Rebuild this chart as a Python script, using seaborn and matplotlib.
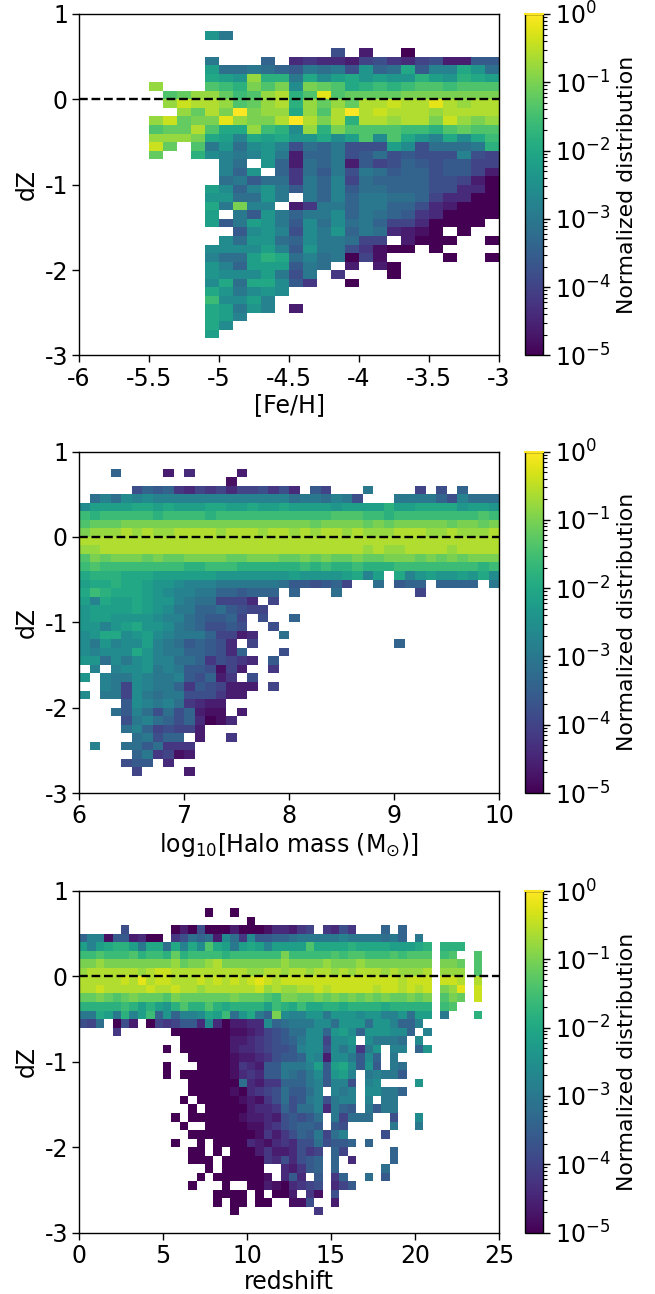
import matplotlib
matplotlib.use("Agg")
import matplotlib.pyplot as plt
import numpy as np
import seaborn as sns
from matplotlib.colors import LogNorm

# one letter per cell, a = 1e-5 ... z = 1 in steps of 0.2 dex, "." = empty bin
# rows run from dZ = 1 (top) down to dZ = -3, bins are 0.1 wide in dZ
feh_rows = [
    "",
    "",
    "..... ....n k.... ..... ..... .....",
    "",
    "..... ..... ..... ...g. c..a. .....",
    "..... ....k ...i. deddc fgedf gcchh",
    "..... ....o jjkji hkjkg nijph llpnj",
    "..... ....p onvqq kpmop nonnq onqpo",
    "..... v...s rqusu mutsp qrqrs srsss",
    "..... .stvv trsvw qsyst tttuu uuuuu",
    "..... .vxww vstvw qvtvt wwxww ywvww",
    "..... ..vtw uzuvv pvswz wxwww vwwww",
    "..... vxtuu yvuuw zwuwq wwvww uxvuv",
    "..... sttws ppvrq mvqus sssrr qstss",
    "..... vvvup olpop nnpmo smspn lpmpr",
    "..... xt.sk njmnl gjikg ggomg jjjkq",
    "..... t..qm lklnk ciikg hjghg gglgf",
    "..... ..... lj.ni cjikc hfgih ghhff",
    "..... ..... lin.i ejhkg kjhii ghhfc",
    "..... ..... jkhjj ekilf jiiii ggfca",
    "..... ....o milnk hkilh jjiii ggdda",
    "..... ....n njjnk .kili kkjji fddaa",
    "..... ....p kull. cekki kkiig dcaaa",
    "..... ....o .khnk ikkmi kjihe daaaa",
    "..... ....o hkonk hmjmj kiffd aaaa.",
    "..... ..... .hmnl gmkni kjdcb a.a..",
    "..... ..... mjnnj imkkj ff.ca aa..a",
    "..... ....m mmmol hnkkg ebaa. a....",
    "..... ....l jjoqp jljka fb... .a..a",
    "..... ....n liooo hkj.c .ca.. .....",
    "..... ....n mmmok gk.e. ..a.. .....",
    "..... ....m pjppm he..a ..... .....",
    "..... ....p nkmnm ..... ..... .....",
    "..... ....r mmol. ..... ..... .....",
    "..... ....p oknl. c.... ..... .....",
    "..... ....p ol... ..... ..... .....",
    "..... ....p m.... ..... ..... .....",
    "..... ....o ..... ..... ..... .....",
]

halo_rows = [
    "",
    "",
    "...i. ...c. d.... c....",
    "..... ..... ....b .....",
    "..... gihie dfefd ffgeg d.hf. ..k.. ..f.g .i...",
    ".jljm lmlll lllll lllll jkkjl kg... kkkki gljjj",
    "moooo ppopo ooppo opoop oooon ooooq ooppp pnoon",
    "rqrrr rrqrr rrqrr rrrrr rrrrs ssrrq rrrrr rrrsr",
    "stttu uuuuu uuuuu uuuuu uutuu uutut uuuuu tuutu",
    "uvvvw vwvvw wwwvw wwvww vwvww vwvvv wwwvv wvvvw",
    "wwwww wwwww wwwww wwwww wwwww wwwww wwwww wwwww",
    "vvwww wwwww wwwww wwwww wwwww wwvwv vwwww vwwww",
    "sutuu ututt uuuut tuuut tutut tuttu uutut utuuu",
    "rsrrr rrrrr qqrrr qqqqq qrqrq qrqqq rrrrr rrrqr",
    "pqqqp ppooo ooonn nnnnn onnnn oplo. plnon nonpm",
    "oppqp ponnm lllkk kkkkj hhghi f..j. hii.i iii.k",
    "prqpp ponml lkkii hiii. i...j ..... ..f.. .....",
    "olpoo ponnl kjjff fd.f. .....",
    "noooo ponmk kiijh gff.. .....",
    "noonn nnmll jihhi f.g.. i....",
    "nnlno pnnmk jiggh g..g. .....",
    "mnppm nomlk kkiff cd..j .....",
    "mknlm molkj hihgd .f... ..... ..... i....",
    "mlmmm pnlkk iihgd i...g",
    "nnjmk mnllj jiegf ed.h.",
    ".l.lm mnklk hhgbf c..e.",
    "n.lkk mlkkl hgice .g...",
    "..lkf mlkki ehgfc cc.f.",
    "m.kkf mkjkk gggec c....",
    "....h mlklj edcc. .....",
    "...jh ljgjg icbb. c....",
    "....g kljig idabd .....",
    "....j lifgf fc... .....",
    "..... jkgii .c..e .....",
    ".l..j jhjee e....",
    "..... ikefb c....",
    "....g hh.d. .....",
    "..... f.... c....",
]

redshift_rows = [
    "",
    "",
    "..... ..... ..... a..a.",
    "..... ..... ..... ..... a....",
    "..... g.... .acag aaaca aabdd cef.e dge.. .i.i.",
    "illbh hcdaa .egji jcmje mhhii jkkkk klkkk kjki. k....",
    "olopq qokpp jplpm spoko poloo oospp ppqpp ppooo pq.qq q....",
    "rrsrr rsqrr qtqrr rrqrr rrrru rrrrr srssr rrsrs ss.rs ..s..",
    "uuvuu uuuuu uvtuu vwuuu uuuuv uuuuv uuuvu uuuuu uu.uu t.s..",
    "vwwww wwvwx xwwww wwwww vvwwv wwvww vwvww wvwvv vw.vv v.s..",
    "wwwww xwywx xwwwx wxwxw xyxwx xxxxx xxxxx xxxwx xx.xx w.w..",
    "wwxww wwwxw wxwwv wwwww wxvwv vwwxw xxxxx wxxwx wx.uv y.x..",
    "ttuts tuttt suttt tttut ttsru uttut ututu tuttu tu.su t.x..",
    "qqqqq rqoqo nqsqq sqpqq qqorq prppq qpqqq qpqqq qq.rs .....",
    "kkpok qlori nillm porjn pkium llnnk nnnmn nllnj oo.k. ..q..",
    "gfj.a gc.af efhhd mdacc ddmij kkkmm jnnnj nnlii l.... .....",
    "....e ..... .aaaa aaabb cdfgh jjmmi nomin nnmmi .l... .....",
    "..... ..... ..aaa aaacc defgh ikmmf mmn.m kkkj. m.... .....",
    "..... ..... a.aaa aaacd defgg hlmmg mkmek n.ll. in... .....",
    "..... ..... ...aa aaabc cdegh himlc mmkhm i.k.. ..... .....",
    "..... ..... a...a aaabe dchhk kkloh opmhn h.kj. ..... .....",
    "..... ..... a.aaa aaabd edhhk jikmh nol.k lkkh. ..... .....",
    "..... ..... ...aa aaaaj dceei iiklh llg.l m.... n.... .....",
    "..... ..... ...aa aaaba defgj hhjl. lkl.m mkki. ..... .....",
    "..... ..... ..a.a aaaab cbegj ghklg kll.l .kk.. ..... .....",
    "..... ..... ...a. aaaaa cddei gjjld kih.k hkk.. ..... .....",
    "..... ..... .a.aa aaaab ccdcg hghj. kfjjj ..g.. m.... .....",
    "..... ..... ..a.. aaaaa bbdeg hiih. hg... ..k.. k.... .....",
    "..... ..... ...aa aaaaa abece gihkf jl... .g... ..... .....",
    "..... ..... .a..a .aaaa dcbde dggjg hhi.i ..... ..... .....",
    "..... ..... ...aa .a.aa acecc dgef. if... ..i.. ..... .....",
    "..... ..... ...aa a.aaa aaedg dghi. i.d.. ..i.. ..... .....",
    "..... ..... ..... a.aaa aa..d cehi. i.... .j... ..... .....",
    "..... ..... ....a .aaaa aab.d hd.h. ei..j .h... ..... .....",
    "..... ..... ...a. ..a.. aacba defg. dfh.. ..... ..... .....",
    "..... ..... ..... .aaaa .a.aa c.eb. g.... ..... ..... .....",
    "..... ..... ..... .a.aa .aa.. bbg.. c.... ..... ..... .....",
    "..... ..... ..... ...a. ..... ...e. ..... .....",
]

feh_xticks = [-6, -5.5, -5, -4.5, -4, -3.5, -3]
feh_xlabels = ["-6", "-5.5", "-5", "-4.5", "-4", "-3.5", "-3"]
halo_xticks = [6, 7, 8, 9, 10]
halo_xlabels = ["6", "7", "8", "9", "10"]
redshift_xticks = [0, 5, 10, 15, 20, 25]
redshift_xlabels = ["0", "5", "10", "15", "20", "25"]
dz_ticks = [1, 0, -1, -2, -3]
dz_labels = ["1", "0", "-1", "-2", "-3"]

LETTERS = "abcdefghijklmnopqrstuvwxyz"


def decode(rows, ncols):
    grid = np.full((40, ncols), np.nan)
    for i, row in enumerate(rows):
        for j, ch in enumerate(row.replace(" ", "")):
            if ch != ".":
                grid[i, j] = 10.0 ** (-5 + 0.2 * LETTERS.index(ch))
    return grid


def plot_panel(fig, top, rows, ncols, xlim, xticks, xlabels, xlabel):
    # pixel boxes of the reference, figure is 655x1294
    W, H = 655.0, 1294.0
    ax = fig.add_axes([79 / W, 1 - (top + 341.5) / H, 420 / W, 341.5 / H])
    cax = fig.add_axes([524.5 / W, 1 - (top + 341.5) / H, 18.5 / W, 341.5 / H])

    sns.heatmap(decode(rows, ncols), ax=ax, cbar_ax=cax, cmap="viridis",
                norm=LogNorm(vmin=1e-5, vmax=1), xticklabels=False, yticklabels=False,
                cbar_kws={"label": "Normalized distribution"})

    # heatmap axes count cells, so move the ticks into cell units
    ax.set_xticks([(x - xlim[0]) / (xlim[1] - xlim[0]) * ncols for x in xticks])
    ax.set_xticklabels(xlabels, fontsize=17, rotation=0)
    ax.set_yticks([(1 - y) * 10 for y in dz_ticks])
    ax.set_yticklabels(dz_labels, fontsize=17, rotation=0)
    ax.tick_params(length=5, width=1.0, pad=3)
    ax.set_xlabel(xlabel, fontsize=17, labelpad=2)
    ax.set_ylabel("dZ", fontsize=17, labelpad=4)
    for spine in ax.spines.values():
        spine.set_visible(True)
        spine.set_linewidth(1.0)

    ax.axhline(10, color="k", linestyle="--", linewidth=1.7)

    cbar = ax.collections[0].colorbar
    cbar.ax.tick_params(which="major", labelsize=17, length=5, width=1.0)
    cbar.ax.tick_params(which="minor", length=3, width=0.8)
    cbar.ax.yaxis.label.set_size(15.8)
    cbar.ax.yaxis.labelpad = 5
    cbar.outline.set_linewidth(1.0)
    # the reference bar has a thin yellow cap over its outline
    cbar.ax.axhline(1, color=plt.get_cmap("viridis")(1.0), linewidth=1.5, zorder=10, clip_on=False)


def main():
    fig = plt.figure(figsize=(6.55, 12.94), dpi=100)
    plot_panel(fig, 14, feh_rows, 30, (-6, -3), feh_xticks, feh_xlabels, "[Fe/H]")
    plot_panel(fig, 451.5, halo_rows, 40, (6, 10), halo_xticks, halo_xlabels,
               r"log$_{10}$[Halo mass (M$_{\odot}$)]")
    plot_panel(fig, 891, redshift_rows, 50, (0, 25), redshift_xticks, redshift_xlabels, "redshift")
    fig.savefig("out.png", dpi=100)


if __name__ == "__main__":
    main()
